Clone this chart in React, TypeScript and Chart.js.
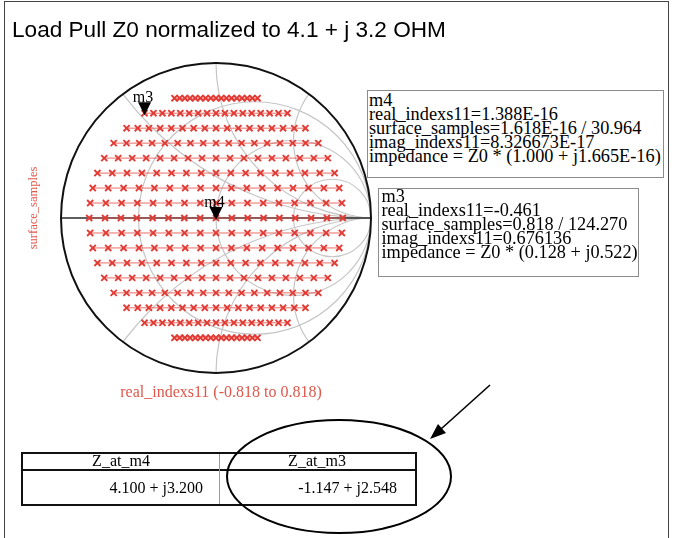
import React, { useEffect, useRef } from "react";
import { Chart, registerables } from "chart.js";

Chart.register(...registerables);

// ---------- data ----------
const TITLE = "Load Pull Z0 normalized to 4.1 + j 3.2 OHM";
const X_LABEL = "real_indexs11 (-0.818 to 0.818)";
const Y_LABEL = "surface_samples";

// imaginary part (reflection plane) of each sample row, top to bottom
const rowImag = [
  0.7727, 0.6761, 0.5795, 0.483, 0.3864, 0.2898, 0.1932, 0.0966, 0,
  -0.0966, -0.1932, -0.2898, -0.3864, -0.483, -0.5795, -0.6761, -0.7727,
];
// half extent (real part) of each row
const rowHalfWidth = [
  0.268, 0.461, 0.577, 0.66, 0.721, 0.765, 0.795, 0.812, 0.818,
  0.812, 0.795, 0.765, 0.721, 0.66, 0.577, 0.461, 0.268,
];
// relative column positions of the 17 samples in every row
const columnFraction = [
  -1, -0.875, -0.75, -0.625, -0.5, -0.375, -0.25, -0.125, 0,
  0.125, 0.25, 0.375, 0.5, 0.625, 0.75, 0.875, 1,
];

const markerNames = ["m3", "m4"];
const markerReal = [-0.461, 1.388e-16];
const markerImag = [0.676136, 8.326673e-17];

// Smith chart grid
const resistanceCircles = [1 / 3, 1, 3];
const reactanceArcs = [0.5, 1, 2, -0.5, -1, -2];

const m4Lines = [
  "m4",
  "real_indexs11=1.388E-16",
  "surface_samples=1.618E-16 / 30.964",
  "imag_indexs11=8.326673E-17",
  "impedance = Z0 * (1.000 + j1.665E-16)",
];
const m3Lines = [
  "m3",
  "real_indexs11=-0.461",
  "surface_samples=0.818 / 124.270",
  "imag_indexs11=0.676136",
  "impedance = Z0 * (0.128 + j0.522)",
];

const tableHeaders = ["Z_at_m4", "Z_at_m3"];
const tableValues = ["4.100 + j3.200", "-1.147 + j2.548"];

// ---------- styles ----------
const RED = "#e23a34";
const RED_LINE = "rgba(232,84,74,0.85)";
const LABEL_RED = "#e0574b";
const SERIF = '"Liberation Serif", "Times New Roman", serif';
const SANS = '"Liberation Sans", Arial, sans-serif';

const smithGridPlugin = {
  id: "smithGrid",
  beforeDatasetsDraw(chart: any) {
    const { ctx } = chart;
    const xs = chart.scales.x;
    const ys = chart.scales.y;
    const cx = xs.getPixelForValue(0);
    const cy = ys.getPixelForValue(0);
    const rx = xs.getPixelForValue(1) - cx;
    const ry = cy - ys.getPixelForValue(1);

    ctx.save();
    ctx.beginPath();
    ctx.ellipse(cx, cy, rx, ry, 0, 0, Math.PI * 2);
    ctx.clip();
    ctx.strokeStyle = "#c6c6c6";
    ctx.lineWidth = 1.2;
    resistanceCircles.forEach((r) => {
      const c = r / (1 + r);
      const rad = 1 / (1 + r);
      ctx.beginPath();
      ctx.ellipse(xs.getPixelForValue(c), cy, rad * rx, rad * ry, 0, 0, Math.PI * 2);
      ctx.stroke();
    });
    reactanceArcs.forEach((x) => {
      const rad = 1 / Math.abs(x);
      ctx.beginPath();
      ctx.ellipse(
        xs.getPixelForValue(1),
        ys.getPixelForValue(1 / x),
        rad * rx,
        rad * ry,
        0,
        0,
        Math.PI * 2
      );
      ctx.stroke();
    });
    ctx.restore();

    // real axis
    ctx.save();
    ctx.strokeStyle = "#2a2a2a";
    ctx.lineWidth = 1.6;
    ctx.beginPath();
    ctx.moveTo(xs.getPixelForValue(-1), cy);
    ctx.lineTo(xs.getPixelForValue(1), cy);
    ctx.stroke();
    // outer circle
    ctx.strokeStyle = "#111";
    ctx.lineWidth = 2;
    ctx.beginPath();
    ctx.ellipse(cx, cy, rx, ry, 0, 0, Math.PI * 2);
    ctx.stroke();
    ctx.restore();
  },
};

const markerPlugin = {
  id: "markers",
  afterDatasetsDraw(chart: any) {
    const { ctx } = chart;
    const xs = chart.scales.x;
    const ys = chart.scales.y;
    ctx.save();
    markerNames.forEach((name, i) => {
      const px = xs.getPixelForValue(markerReal[i]);
      const py = ys.getPixelForValue(markerImag[i]);
      ctx.fillStyle = "#000";
      ctx.beginPath();
      ctx.moveTo(px, py + 2);
      ctx.lineTo(px - 6.5, py - 11);
      ctx.lineTo(px + 6.5, py - 11);
      ctx.closePath();
      ctx.fill();
      ctx.font = `16px ${SERIF}`;
      ctx.textAlign = "center";
      ctx.textBaseline = "alphabetic";
      ctx.fillText(name, px - 1.5, py - 11.5);
    });
    ctx.restore();
  },
};

export default function App() {
  const canvasRef = useRef<HTMLCanvasElement | null>(null);

  useEffect(() => {
    const canvas = canvasRef.current;
    if (!canvas) return;
    const datasets = rowImag.map((im, i) => ({
      label: `row ${i + 1}`,
      data: columnFraction.map((f) => ({ x: f * rowHalfWidth[i], y: im })),
      showLine: true,
      borderColor: RED_LINE,
      backgroundColor: RED,
      borderWidth: 1,
      pointStyle: "crossRot" as const,
      pointRadius: 4.3,
      pointHoverRadius: 4.3,
      pointBorderColor: RED,
      pointBorderWidth: 1.9,
    }));
    const chart = new Chart(canvas, {
      type: "scatter",
      data: { datasets },
      options: {
        animation: false,
        responsive: false,
        maintainAspectRatio: false,
        events: [],
        layout: { padding: { left: 61, right: 303, top: 63, bottom: 165 } },
        plugins: {
          legend: { display: false },
          title: { display: false },
          tooltip: { enabled: false },
        },
        scales: {
          x: { type: "linear", min: -1, max: 1, display: false },
          y: { type: "linear", min: -1, max: 1, display: false },
        },
      },
      plugins: [smithGridPlugin, markerPlugin],
    });
    return () => chart.destroy();
  }, []);

  const boxText: React.CSSProperties = {
    fontFamily: SERIF,
    fontSize: 18.3,
    lineHeight: "14px",
    whiteSpace: "pre",
    color: "#000",
  };

  return (
    <div
      style={{
        position: "fixed",
        left: 0,
        top: 0,
        width: 674,
        height: 538,
        background: "#fff",
        overflow: "hidden",
      }}
    >
      <canvas
        ref={canvasRef}
        width={674}
        height={538}
        style={{ position: "absolute", left: 0, top: 0, width: 674, height: 538 }}
      />
      {/* frame */}
      <div
        style={{
          position: "absolute",
          left: 4,
          top: 1,
          width: 665,
          height: 600,
          border: "1px solid #444",
          boxSizing: "border-box",
        }}
      />
      {/* title */}
      <div
        style={{
          position: "absolute",
          left: 12,
          top: 19,
          fontFamily: SANS,
          fontSize: 22.6,
          lineHeight: "22px",
          whiteSpace: "pre",
          color: "#000",
        }}
      >
        {TITLE}
      </div>
      {/* axis labels */}
      <div
        style={{
          position: "absolute",
          left: 33,
          top: 208,
          transform: "translate(-50%, -50%) rotate(-90deg)",
          fontFamily: SERIF,
          fontSize: 12.5,
          lineHeight: "13px",
          whiteSpace: "pre",
          color: LABEL_RED,
        }}
      >
        {Y_LABEL}
      </div>
      <div
        style={{
          position: "absolute",
          left: 71,
          top: 384,
          width: 300,
          textAlign: "center",
          fontFamily: SERIF,
          fontSize: 16,
          lineHeight: "16px",
          whiteSpace: "pre",
          color: LABEL_RED,
        }}
      >
        {X_LABEL}
      </div>
      {/* marker readouts */}
      <div
        style={{
          ...boxText,
          position: "absolute",
          left: 367,
          top: 90,
          width: 297,
          height: 88,
          boxSizing: "border-box",
          border: "1.5px solid #8c8c8c",
          paddingTop: 1.5,
          paddingLeft: 1,
          background: "#fff",
        }}
      >
        {m4Lines.join("\n")}
      </div>
      <div
        style={{
          ...boxText,
          position: "absolute",
          left: 378,
          top: 188,
          width: 261,
          height: 89,
          boxSizing: "border-box",
          border: "1.5px solid #8c8c8c",
          paddingTop: 0,
          paddingLeft: 2.5,
          background: "#fff",
        }}
      >
        {m3Lines.join("\n")}
      </div>
      {/* table */}
      <div
        style={{
          position: "absolute",
          left: 21,
          top: 452,
          width: 396,
          height: 54,
          border: "2px solid #111",
          boxSizing: "border-box",
        }}
      />
      <div style={{ position: "absolute", left: 21, top: 469, width: 396, height: 1.5, background: "#111" }} />
      <div style={{ position: "absolute", left: 218.5, top: 454, width: 1, height: 50, background: "#9a9a9a" }} />
      {tableHeaders.map((h, i) => (
        <div
          key={h}
          style={{
            position: "absolute",
            left: i === 0 ? 23 : 219,
            width: 196,
            top: 453,
            textAlign: "center",
            fontFamily: SERIF,
            fontSize: 16,
            lineHeight: "16px",
            whiteSpace: "pre",
          }}
        >
          {h}
        </div>
      ))}
      {tableValues.map((v, i) => (
        <div
          key={v}
          style={{
            position: "absolute",
            left: i === 0 ? 23 : 219,
            width: i === 0 ? 180 : 178,
            top: 480,
            textAlign: "right",
            fontFamily: SERIF,
            fontSize: 16,
            lineHeight: "16px",
            whiteSpace: "pre",
          }}
        >
          {v}
        </div>
      ))}
      {/* ellipse + arrow annotation */}
      <svg
        width={674}
        height={538}
        style={{ position: "absolute", left: 0, top: 0, pointerEvents: "none" }}
      >
        <ellipse cx={339} cy={476.5} rx={112} ry={56.5} fill="none" stroke="#000" strokeWidth={2} />
        <line x1={490} y1={385} x2={441} y2={429} stroke="#000" strokeWidth={1.6} />
        <polygon points="430,439 446,433 438,424" fill="#000" />
      </svg>
    </div>
  );
}
